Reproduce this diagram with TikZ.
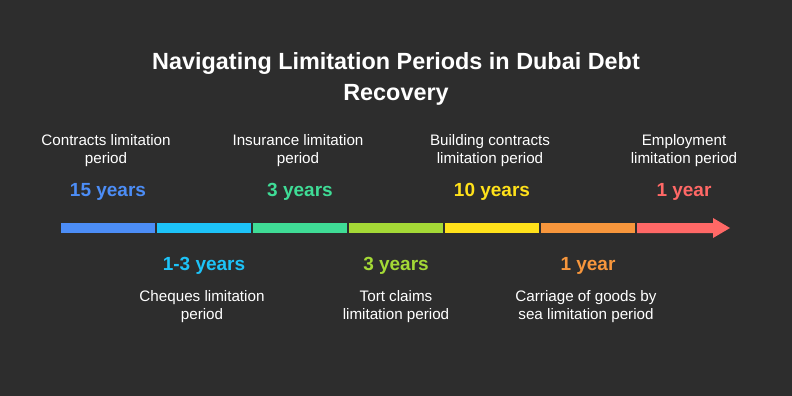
\documentclass[tikz,border=0pt]{standalone}
\usepackage{fontspec}
\setmainfont{Liberation Sans}
\definecolor{bgdark}{HTML}{2D2D2D}
\definecolor{segA}{HTML}{4C8DF6}
\definecolor{segB}{HTML}{1DC3F8}
\definecolor{segC}{HTML}{3FDC96}
\definecolor{segD}{HTML}{A4D936}
\definecolor{segE}{HTML}{FFE11A}
\definecolor{segF}{HTML}{F7963C}
\definecolor{segG}{HTML}{FF6866}
\tikzset{
  caption/.style={text=white, align=center, font=\fontsize{15.2}{18}\selectfont},
  years/.style={font=\bfseries\fontsize{19}{22}\selectfont}
}

\begin{document}
\begin{tikzpicture}[x=1pt, y=-1pt]
        \fill[bgdark] (0,0) rectangle (792,396);
        \useasboundingbox (0,0) rectangle (792,396);

        \node[text=white, align=center, font=\bfseries\fontsize{23.4}{31}\selectfont] (title) at (396,79) {Navigating Limitation Periods in Dubai Debt\\Recovery};

        % the bar
        \fill[segA] (61,223) rectangle (155,233);
        \fill[segB] (157,223) rectangle (251,233);
        \fill[segC] (253,223) rectangle (347,233);
        \fill[segD] (349,223) rectangle (443,233);
        \fill[segE] (445,223) rectangle (539,233);
        \fill[segF] (541,223) rectangle (635,233);
        \fill[segG] (637,223) -- (713,223) -- (713,218) -- (730,228) -- (713,238) -- (713,233) -- (637,233) -- cycle;

        % above the bar
        \node[caption] (contracts) at (106,151) {Contracts limitation\\period};
        \node[years, text=segA] (contractsyrs) at (108,192) {15 years};
        \node[caption] (insurance) at (298,151) {Insurance limitation\\period};
        \node[years, text=segC] (insuranceyrs) at (300,192) {3 years};
        \node[caption] (building) at (490,151) {Building contracts\\limitation period};
        \node[years, text=segE] (buildingyrs) at (492,192) {10 years};
        \node[caption] (employment) at (684,151) {Employment\\limitation period};
        \node[years, text=segG] (employmentyrs) at (684,192) {1 year};

        % below the bar
        \node[years, text=segB] (chequesyrs) at (204,266) {1-3 years};
        \node[caption] (cheques) at (202,307) {Cheques limitation\\period};
        \node[years, text=segD] (tortyrs) at (396,266) {3 years};
        \node[caption] (tort) at (396,307) {Tort claims\\limitation period};
        \node[years, text=segF] (carriageyrs) at (588,266) {1 year};
        \node[caption] (carriage) at (586,307) {Carriage of goods by\\sea limitation period};
    \end{tikzpicture}
\end{document}
